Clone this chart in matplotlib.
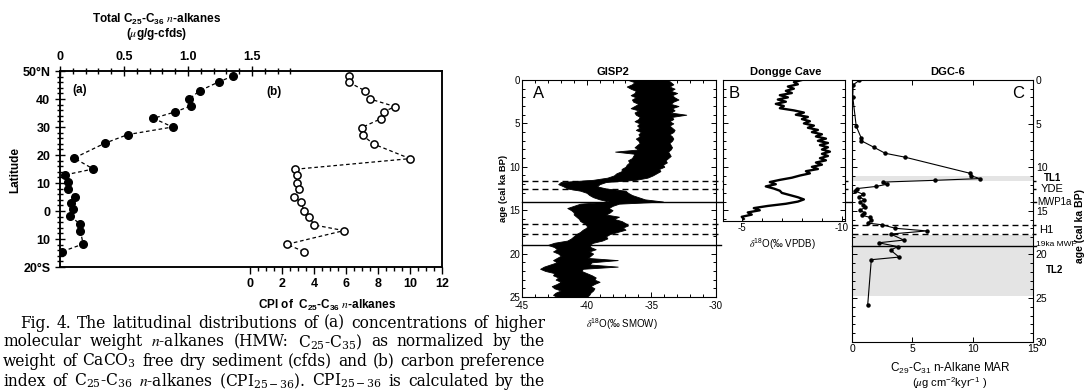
import numpy as np
import matplotlib
matplotlib.use("Agg")
import matplotlib.pyplot as plt
from matplotlib.ticker import FixedLocator, FixedFormatter
from matplotlib.lines import Line2D
import matplotlib.transforms as mtransforms

W, H = 1088, 392
plt.rcParams['font.family'] = ['Liberation Sans', 'DejaVu Sans']
plt.rcParams['mathtext.fontset'] = 'stix'
plt.rcParams['axes.unicode_minus'] = False

# ---------------- Fig. 4 data ----------------
lat_a = [48.2, 46.1, 42.9, 40.0, 37.5, 35.4, 33.1, 30.0, 27.3, 24.2, 18.9, 15.0, 12.9,
         10.5, 7.9, 5.1, 3.0, 0.6, -1.8, -4.8, -7.0, -11.8, -14.5]
conc_a = [1.35, 1.24, 1.09, 1.01, 1.02, 0.90, 0.73, 0.88, 0.53, 0.35, 0.11, 0.26, 0.04,
          0.065, 0.065, 0.12, 0.086, 0.10, 0.08, 0.16, 0.16, 0.18, 0.016]
lat_b = [48.2, 46.0, 42.9, 40.0, 37.3, 35.4, 33.0, 29.8, 27.0, 23.9, 18.7, 14.9, 12.9,
         10.1, 7.9, 5.1, 3.1, 0.0, -2.0, -5.0, -7.0, -11.9, -14.5]
cpi_b = [6.2, 6.17, 7.2, 7.5, 9.06, 8.35, 8.2, 6.98, 7.04, 7.73, 10.0, 2.81, 2.92,
         2.94, 3.08, 2.77, 3.17, 3.4, 3.67, 4.02, 5.87, 2.31, 3.37]
lat_ticks = [-20, -10, 0, 10, 20, 30, 40, 50]
lat_labels = ['20°S', '10', '0', '10', '20', '30', '40', '50°N']
conc_ticks = [0, 0.5, 1.0, 1.5]
conc_labels = ['0', '0.5', '1.0', '1.5']
cpi_ticks = [0, 2, 4, 6, 8, 10, 12]

caption_lines = [
    'Fig. 4. The latitudinal distributions of (a) concentrations of higher',
    'molecular weight $n$-alkanes (HMW: C$\\mathregular{_{25}}$-C$\\mathregular{_{35}}$) as normalized by the',
    'weight of CaCO$\\mathregular{_{3}}$ free dry sediment (cfds) and (b) carbon preference',
    'index of C$\\mathregular{_{25}}$-C$\\mathregular{_{36}}$ $n$-alkanes (CPI$\\mathregular{_{25-36}}$). CPI$\\mathregular{_{25-36}}$ is calculated by the',
]

# ---------------- GISP2 (envelope of the dense record) ----------------
gisp_age = [0.0, 0.25, 0.5, 0.75, 1.0, 1.25, 1.5, 1.75, 2.0, 2.25, 2.5, 2.75, 3.0, 3.25, 3.5,
            3.75, 4.0, 4.25, 4.5, 4.75, 5.0, 5.25, 5.5, 5.75, 6.0, 6.25, 6.5, 6.75, 7.0, 7.25,
            7.5, 7.75, 8.0, 8.25, 8.5, 8.75, 9.0, 9.25, 9.5, 9.75, 10.0, 10.25, 10.5, 10.75,
            11.0, 11.25, 11.5, 11.75, 12.0, 12.25, 12.5, 12.75, 13.0, 13.25, 13.5, 13.75,
            14.0, 14.25, 14.5, 14.75, 15.0, 15.25, 15.5, 15.75, 16.0, 16.25, 16.5, 16.75,
            17.0, 17.25, 17.5, 17.75, 18.0, 18.25, 18.5, 18.75, 19.0, 19.25, 19.5, 19.75,
            20.0, 20.25, 20.5, 20.75, 21.0, 21.25, 21.5, 21.75, 22.0, 22.25, 22.5, 22.75,
            23.0, 23.25, 23.5, 23.75, 24.0, 24.25, 24.5, 24.75, 25.0]
gisp_low = [-36.8, -36.3, -36.5, -36.9, -36.6, -36.2, -36.3, -36.6, -36.2, -36.5, -36.4, -36.0,
            -36.3, -36.6, -36.0, -36.3, -36.2, -35.9, -36.0, -36.3, -35.9, -36.1, -35.9, -36.2,
            -35.8, -36.0, -35.9, -36.2, -36.0, -35.9, -36.1, -36.3, -36.0, -37.8, -36.3, -36.4,
            -36.5, -36.8, -36.7, -36.9, -37.0, -37.3, -37.3, -37.7, -37.9, -38.4, -39.5, -42.0,
            -42.2, -41.8, -41.5, -40.5, -40.0, -39.8, -39.5, -39.0, -38.3, -40.5, -41.0, -41.5,
            -41.2, -41.0, -41.0, -40.8, -40.6, -40.5, -40.2, -40.0, -40.0, -40.3, -40.5, -40.8,
            -41.0, -41.2, -41.5, -42.5, -43.0, -42.5, -42.3, -42.6, -42.2, -42.0, -42.3, -42.6,
            -42.3, -42.8, -43.3, -43.6, -43.2, -42.5, -42.6, -42.2, -42.4, -42.0, -42.3, -42.7,
            -42.5, -42.0, -42.4, -42.6, -42.3]
gisp_high = [-33.7, -33.5, -33.3, -33.6, -33.2, -33.5, -33.0, -33.4, -33.2, -32.9, -33.3, -33.5,
             -32.9, -33.4, -33.2, -33.5, -32.3, -33.4, -33.3, -33.6, -33.3, -33.6, -33.4, -33.2,
             -33.3, -33.6, -33.4, -33.3, -33.4, -33.6, -33.5, -33.4, -33.5, -33.7, -33.6, -33.5,
             -33.7, -33.9, -33.8, -34.1, -34.0, -34.4, -34.3, -34.6, -34.9, -35.3, -36.2, -38.5,
             -39.0, -39.2, -38.5, -37.0, -36.8, -36.5, -36.0, -35.5, -34.1, -37.5, -38.0, -38.3,
             -38.0, -38.2, -38.5, -37.5, -37.9, -37.3, -37.0, -36.8, -37.2, -37.0, -37.6, -38.2,
             -38.5, -38.4, -38.8, -39.5, -39.8, -39.7, -39.3, -39.8, -39.5, -39.7, -39.9, -37.6,
             -39.6, -39.8, -37.6, -40.3, -40.4, -40.0, -39.6, -39.3, -39.4, -39.0, -39.4, -39.7,
             -39.4, -39.5, -39.7, -39.8, -40.0]

# ---------------- Dongge Cave ----------------
dongge_age = [0.0, 0.25, 0.5, 0.75, 1.0, 1.25, 1.5, 1.75, 2.0, 2.25, 2.5, 2.75, 3.0, 3.25,
              3.5, 3.75, 4.0, 4.25, 4.5, 4.75, 5.0, 5.25, 5.5, 5.75, 6.0, 6.25, 6.5, 6.75,
              7.0, 7.25, 7.5, 7.75, 8.0, 8.25, 8.5, 8.75, 9.0, 9.25, 9.5, 9.75, 10.0, 10.25,
              10.5, 10.75, 11.0, 11.25, 11.5, 11.75, 12.0, 12.25, 12.5, 12.75, 13.0, 13.25,
              13.5, 13.75, 14.0, 14.25, 14.5, 14.75, 15.0, 15.25, 15.5, 15.75, 16.0]
dongge_d18o = [-8.0, -7.6, -7.8, -7.3, -7.6, -7.2, -7.5, -6.9, -7.3, -6.8, -7.2, -6.7, -7.1,
               -6.9, -7.6, -8.1, -7.7, -8.3, -8.0, -8.4, -8.1, -8.6, -8.3, -8.8, -8.5, -9.0,
               -8.7, -9.2, -8.8, -9.3, -8.9, -9.3, -9.0, -9.4, -9.0, -9.3, -8.9, -9.2, -8.7,
               -9.0, -8.5, -8.8, -8.2, -8.4, -7.9, -7.5, -6.9, -6.4, -6.7, -6.2, -6.6, -6.9,
               -7.0, -7.4, -7.8, -8.1, -7.8, -7.2, -6.3, -5.6, -5.9, -5.3, -5.5, -5.0, -5.1]

# ---------------- DGC-6 ----------------
dgc_age = [0.05, 0.55, 1.9, 5.3, 6.6, 6.95, 7.7, 8.4, 8.85, 10.7, 11.0, 11.3, 11.5, 11.7,
           11.95, 12.2, 12.45, 12.7, 13.1, 13.4, 13.7, 14.0, 14.3, 14.6, 14.9, 15.2, 15.5,
           15.75, 16.1, 16.4, 16.6, 17.0, 17.3, 17.66, 18.35, 18.66, 19.1, 19.5, 20.3, 20.6,
           25.8]
dgc_mar = [0.6, 0.1, 0.06, 0.35, 0.75, 0.75, 1.8, 2.75, 4.4, 9.8, 9.9, 10.6, 6.9, 2.6,
           2.9, 2.0, 0.4, 0.25, 0.9, 0.6, 1.0, 0.7, 0.9, 1.1, 0.7, 1.0, 0.8,
           1.5, 1.6, 1.3, 2.5, 3.6, 6.2, 3.2, 4.3, 2.2, 3.8, 3.2, 3.9, 1.6, 1.3]

event_age = [11.6, 12.6, 14.1, 16.6, 17.7, 19.0]
event_style = ['--', '--', '-', '--', '--', '-']
tl_bands = [(11.0, 11.6), (17.8, 24.8)]

fig = plt.figure(figsize=(W / 100, H / 100), dpi=100)
renderer = fig.canvas.get_renderer()


def ax_px(x0, y0, x1, y1):
    return fig.add_axes([x0 / W, 1 - y1 / H, (x1 - x0) / W, (y1 - y0) / H])


def ftext(x, y, s, **kw):
    return fig.text(x / W, 1 - y / H, s, **kw)


def justify(line, x0, x1, y, **kw):
    words = line.split(' ')
    objs = [ftext(x0, y, w, **kw) for w in words]
    widths = [o.get_window_extent(renderer).width for o in objs]
    gap = (x1 - x0 - sum(widths)) / max(len(words) - 1, 1)
    x = x0
    for o, wd in zip(objs, widths):
        o.set_x(x / W)
        x += wd + gap


# ================= Left figure =================
ax = ax_px(60, 71, 442, 267)
ax.set_xlim((60 - 250) / 16, 12)
ax.set_ylim(-20, 50)
ax.plot(cpi_b, lat_b, color='k', lw=0.9, dashes=(2.9, 2.2), marker='o', ms=5.2,
        mfc='white', mec='k', mew=1.1, zorder=3)
ax.xaxis.set_major_locator(FixedLocator(cpi_ticks))
ax.xaxis.set_minor_locator(FixedLocator([v / 2 for v in range(1, 24, 2)] + [1, 3, 5, 7, 9, 11]))
ax.tick_params(axis='x', which='both', direction='out', top=False, bottom=True,
               labelsize=9, pad=3, width=1)
ax.tick_params(axis='x', which='major', length=5)
ax.tick_params(axis='x', which='minor', length=3)
ax.yaxis.set_major_locator(FixedLocator(lat_ticks))
ax.yaxis.set_major_formatter(FixedFormatter(lat_labels))
ax.yaxis.set_minor_locator(FixedLocator(list(range(-20, 51, 2))))
ax.tick_params(axis='y', which='both', direction='inout', left=True, right=False,
               labelsize=9, width=1)
ax.tick_params(axis='y', which='major', length=7)
ax.tick_params(axis='y', which='minor', length=4)
for sp in ax.spines.values():
    sp.set_linewidth(1.1)

axt = ax.twiny()
axt.set_xlim(0, (442 - 60) / 128)
axt.plot(conc_a, lat_a, color='k', lw=0.9, dashes=(2.9, 2.2), marker='o', ms=5.5,
         mfc='k', mec='k', zorder=3)
axt.xaxis.set_major_locator(FixedLocator(conc_ticks))
axt.xaxis.set_major_formatter(FixedFormatter(conc_labels))
axt.xaxis.set_minor_locator(FixedLocator([i / 10 for i in range(1, 19)]))
axt.tick_params(axis='x', which='both', direction='inout', top=True, bottom=False,
                labelsize=9, width=1, pad=2)
axt.tick_params(axis='x', which='major', length=7)
axt.tick_params(axis='x', which='minor', length=4)
for sp in axt.spines.values():
    sp.set_linewidth(1.1)
for t in ax.get_xticklabels() + ax.get_yticklabels() + axt.get_xticklabels():
    t.set_fontweight('bold')

ftext(157, 19, 'Total C$\\mathregular{_{25}}$-C$\\mathregular{_{36}}$ $n$-alkanes',
      ha='center', va='center', fontsize=8.5, fontweight='bold')
ftext(157, 34, '($\\mu$g/g-cfds)', ha='center', va='center', fontsize=8.5, fontweight='bold')
ftext(80, 90, '(a)', ha='center', va='center', fontsize=8.5, fontweight='bold')
ftext(274, 92, '(b)', ha='center', va='center', fontsize=8.5, fontweight='bold')
ftext(15, 170, 'Latitude', ha='center', va='center', rotation=90, fontsize=8.5,
      fontweight='bold')
ftext(327, 305, 'CPI of  C$\\mathregular{_{25}}$-C$\\mathregular{_{36}}$ $n$-alkanes',
      ha='center', va='center', fontsize=8.5, fontweight='bold')

cap = dict(fontsize=11.2, family=['DejaVu Serif'], va='center', ha='left')
cap_y = [323, 342, 361, 381]
cap_x0 = [20, 3, 3, 3]
for line, yy, xx in zip(caption_lines, cap_y, cap_x0):
    justify(line, xx, 545, yy, **cap)

# ================= Right figure =================
axA = ax_px(522, 80, 716, 297)
axB = ax_px(722.7, 80, 845, 220.7)
axC = ax_px(852, 80, 1033, 341.7)

axA.fill_betweenx(gisp_age, gisp_low, gisp_high, color='k', lw=0.6)
axA.set_xlim(-45, -30)
axA.set_ylim(25, 0)
axA.xaxis.set_major_locator(FixedLocator([-45, -40, -35, -30]))
axA.xaxis.set_minor_locator(FixedLocator(list(range(-45, -29))))
axA.yaxis.set_major_locator(FixedLocator([0, 5, 10, 15, 20, 25]))
axA.yaxis.set_minor_locator(FixedLocator(list(range(0, 26))))

axB.plot(dongge_d18o, dongge_age, color='k', lw=1.7)
axB.set_xlim(-4.05, -10.15)
axB.set_ylim(16.2, 0)
axB.xaxis.set_major_locator(FixedLocator([-5, -10]))
axB.xaxis.set_minor_locator(FixedLocator(list(range(-10, -4))))
axB.yaxis.set_major_locator(FixedLocator([0, 5, 10, 15]))
axB.yaxis.set_minor_locator(FixedLocator(list(range(0, 17))))

for lo, hi in tl_bands:
    axC.axhspan(lo, hi, color='#e4e4e4', lw=0, zorder=0)
axC.plot(dgc_mar, dgc_age, color='k', lw=0.8, marker='o', ms=2.2, zorder=3)
axC.set_xlim(0, 15)
axC.set_ylim(30, 0)
axC.xaxis.set_major_locator(FixedLocator([0, 5, 10, 15]))
axC.yaxis.set_major_locator(FixedLocator([0, 5, 10, 15, 20, 25, 30]))
axC.yaxis.set_minor_locator(FixedLocator(list(range(0, 31))))

for a in (axA, axB, axC):
    a.tick_params(which='both', direction='in', top=True, bottom=True, left=True, right=True,
                  labelsize=7, width=0.7, pad=2)
    a.tick_params(which='major', length=3.5)
    a.tick_params(which='minor', length=2)
    for sp in a.spines.values():
        sp.set_linewidth(0.8)
axA.tick_params(axis='y', pad=1.5)
axA.tick_params(axis='x', pad=3)
axB.tick_params(which='both', top=False, labelleft=False)
axC.tick_params(axis='y', labelleft=False, labelright=True, labelsize=7.5)
axC.tick_params(axis='x', labelsize=7.5)

# event lines
trA = mtransforms.blended_transform_factory(axA.transAxes, axA.transData)
trC = mtransforms.blended_transform_factory(axC.transAxes, axC.transData)
for age, ls in zip(event_age, event_style):
    kw = dict(color='k', lw=1.0, clip_on=False, zorder=5)
    if ls == '--':
        kw['dashes'] = (4.3, 2.9)
    if age < 16.2:
        axA.add_line(Line2D([0, (1036 - 522) / 194], [age, age], transform=trA, **kw))
    else:
        axA.add_line(Line2D([0, (721 - 522) / 194], [age, age], transform=trA, **kw))
        axC.add_line(Line2D([0, (1036 - 852) / 181], [age, age], transform=trC, **kw))

# labels on the right of DGC-6
axC.text(1.06, 11.2, 'TL1', transform=trC, fontsize=7, fontweight='bold', va='center')
axC.text(1.04, 12.45, 'YDE', transform=trC, fontsize=8, va='center')
axC.text(1.025, 13.95, 'MWP1a', transform=trC, fontsize=7, va='center')
axC.text(1.035, 17.15, 'H1', transform=trC, fontsize=8, va='center')
axC.text(1.015, 18.9, '19ka MWP', transform=trC, fontsize=6, va='center')
axC.text(1.07, 21.8, 'TL2', transform=trC, fontsize=7, fontweight='bold', va='center')

ftext(613, 72, 'GISP2', ha='center', va='center', fontsize=8, fontweight='bold')
ftext(786, 72, 'Dongge Cave', ha='center', va='center', fontsize=8, fontweight='bold')
ftext(948, 72, 'DGC-6', ha='center', va='center', fontsize=8, fontweight='bold')
ftext(539, 94, 'A', ha='center', va='center', fontsize=12)
ftext(734, 94, 'B', ha='center', va='center', fontsize=12)
ftext(1018, 94, 'C', ha='center', va='center', fontsize=12)

ftext(503, 188, 'age (cal ka BP)', ha='center', va='center', rotation=90, fontsize=6.8,
      fontweight='bold')
ftext(1080, 226, 'age (cal ka BP)', ha='center', va='center', rotation=90, fontsize=7.5,
      fontweight='bold')
ftext(622, 324, '$\\delta$$\\mathregular{^{18}}$O(‰ SMOW)', ha='center', va='center', fontsize=7)
ftext(782, 244, '$\\delta$$\\mathregular{^{18}}$O(‰ VPDB)', ha='center', va='center', fontsize=7)
ftext(950, 368, 'C$\\mathregular{_{29}}$-C$\\mathregular{_{31}}$ n-Alkane MAR', ha='center',
      va='center', fontsize=8.5)
ftext(950, 383, '($\\mu$g cm$\\mathregular{^{-2}}$kyr$\\mathregular{^{-1}}$ )', ha='center',
      va='center', fontsize=8)

fig.savefig('out.png', dpi=100)
